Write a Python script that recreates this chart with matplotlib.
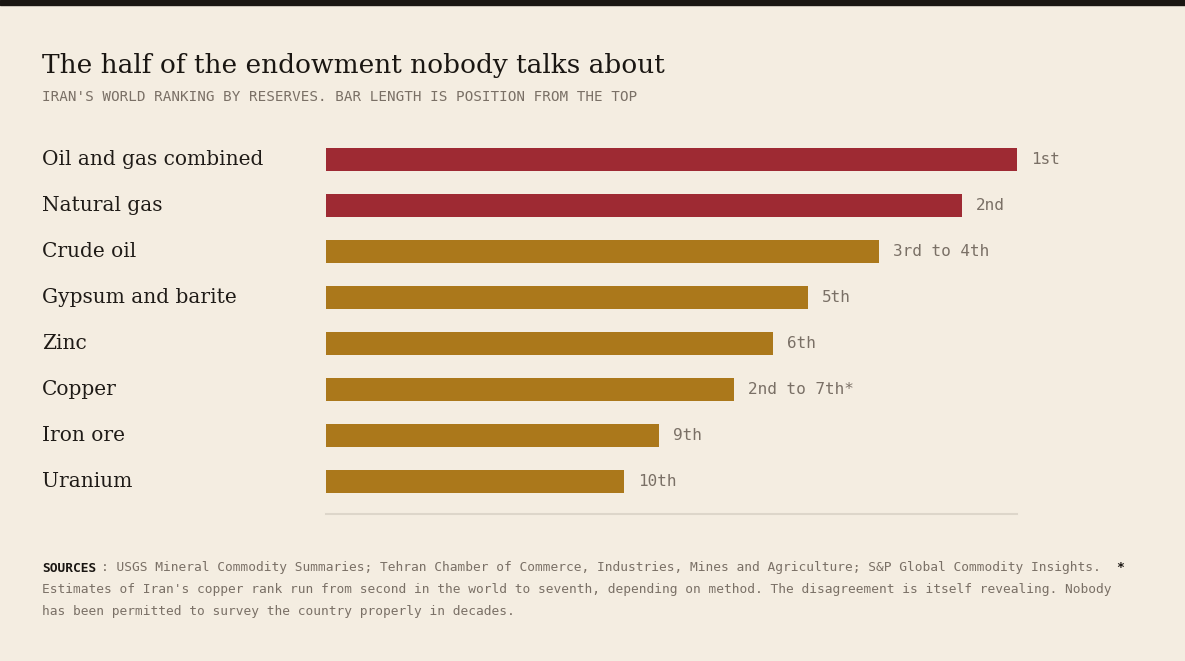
import matplotlib.pyplot as plt
from matplotlib.patches import Rectangle

categories = ["Oil and gas combined", "Natural gas", "Crude oil", "Gypsum and barite",
              "Zinc", "Copper", "Iron ore", "Uranium"]
scores = [100, 92, 80, 69.7, 64.7, 59, 48.2, 43.1]
rank_labels = ["1st", "2nd", "3rd to 4th", "5th", "6th", "2nd to 7th*", "9th", "10th"]
groups = ["hydrocarbon", "hydrocarbon", "other", "other", "other", "other", "other", "other"]

bg = "#f4ede1"
colors = {"hydrocarbon": "#9e2a33", "other": "#ab781b"}

W, H = 1185, 661
fig = plt.figure(figsize=(W / 100, H / 100), dpi=100, facecolor=bg)

# top dark strip
fig.patches.append(Rectangle((0, 1 - 5 / H), 1, 5 / H, transform=fig.transFigure,
                             color="#1a1612", zorder=10))

ax = fig.add_axes([326 / W, (H - 514) / H, (1017 - 326) / W, 378 / H])
ax.set_facecolor(bg)
y = list(range(len(categories)))
ax.barh(y, scores, height=0.5, color=[colors[g] for g in groups])
ax.set_xlim(0, 100)
ax.set_ylim(7.717, -0.5)
for s in ["top", "right", "left"]:
    ax.spines[s].set_visible(False)
ax.spines["bottom"].set_color("#ddd6ca")
ax.spines["bottom"].set_linewidth(1.5)
ax.set_xticks([])
ax.set_yticks([])

for i, (cat, val, lab) in enumerate(zip(categories, scores, rank_labels)):
    ax.text(val + 2, i, lab, va="center", ha="left", fontsize=11.5,
            family="DejaVu Sans Mono", color="#7a7066")
    ax.annotate(cat, xy=(42 / W, 0), xycoords=("figure fraction", "data"),
                xytext=(42 / W, i), textcoords=("figure fraction", "data"),
                va="center", ha="left", fontsize=14.5, family="DejaVu Serif",
                color="#1f1b17")

fig.text(42 / W, 1 - 66 / H, "The half of the endowment nobody talks about",
         fontsize=19, family="DejaVu Serif", color="#1a1612", va="center")
fig.text(42 / W, 1 - 97 / H,
         "IRAN'S WORLD RANKING BY RESERVES. BAR LENGTH IS POSITION FROM THE TOP",
         fontsize=10.3, family="DejaVu Sans Mono", color="#7a7066", va="center")

foot_font = dict(fontsize=9.3, family="DejaVu Sans Mono", color="#7a7066", va="center")
t = fig.text(42 / W, 1 - 568 / H, "SOURCES", fontweight="bold", **{**foot_font, "color": "#1a1612"})
fig.text(101 / W, 1 - 568 / H,
         ": USGS Mineral Commodity Summaries; Tehran Chamber of Commerce, Industries, Mines and Agriculture; S&P Global Commodity Insights.",
         **foot_font)
fig.text(1116 / W, 1 - 568 / H, "*", fontweight="bold", **{**foot_font, "color": "#1a1612"})
fig.text(42 / W, 1 - 590 / H,
         "Estimates of Iran's copper rank run from second in the world to seventh, depending on method. The disagreement is itself revealing. Nobody",
         **foot_font)
fig.text(42 / W, 1 - 612 / H, "has been permitted to survey the country properly in decades.", **foot_font)

fig.savefig("out.png", dpi=100, facecolor=bg)
